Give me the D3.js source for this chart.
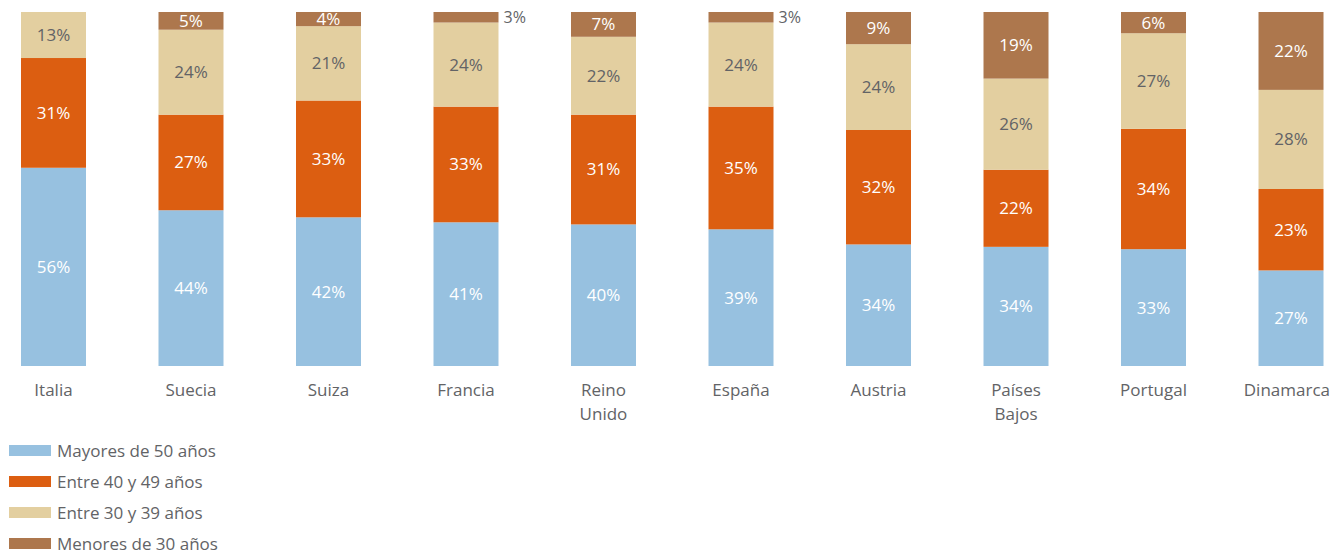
<!DOCTYPE html>
<html>
<head>
<meta charset="utf-8">
<script src="https://cdn.jsdelivr.net/npm/d3@7"></script>
<style>
  html, body { margin: 0; padding: 0; background: #fff; }
  svg text { font-family: "Open Sans", "Noto Sans", sans-serif; }
</style>
</head>
<body>
<svg id="chart" width="1331" height="553"></svg>
<script>
// Age distribution by country (percent of total), 100% stacked
const countries = ["Italia", "Suecia", "Suiza", "Francia", "Reino Unido", "España", "Austria", "Países Bajos", "Portugal", "Dinamarca"];
const countryLines = [["Italia"], ["Suecia"], ["Suiza"], ["Francia"], ["Reino", "Unido"], ["España"], ["Austria"], ["Países", "Bajos"], ["Portugal"], ["Dinamarca"]];
const seriesNames = ["Mayores de 50 años", "Entre 40 y 49 años", "Entre 30 y 39 años", "Menores de 30 años"];
const over50   = [56, 44, 42, 41, 40, 39, 34, 34, 33, 27];
const from40   = [31, 27, 33, 33, 31, 35, 32, 22, 34, 23];
const from30   = [13, 24, 21, 24, 22, 24, 24, 26, 27, 28];
const under30  = [0, 5, 4, 3, 7, 3, 9, 19, 6, 22];
const colors   = ["#97c1e0", "#dc5e11", "#e3cfa0", "#ad774d"];
const labelColors = ["#ffffff", "#ffffff", "#626366", "#ffffff"];

const seriesValues = [over50, from40, from30, under30];
const rows = countries.map((c, i) => {
  const r = { country: c };
  seriesNames.forEach((s, k) => r[s] = seriesValues[k][i]);
  return r;
});

const W = 1331;
const svg = d3.select("#chart");
const plotBottom = 366, plotTop = 12;

const x = d3.scaleBand()
  .domain(countries)
  .range([-15.25, 1359.75])
  .paddingInner(0.5273)
  .paddingOuter(0.2636);

const y = d3.scaleLinear().domain([0, 1]).range([plotBottom, plotTop]);

const stacked = d3.stack()
  .keys(seriesNames)
  .offset(d3.stackOffsetExpand)(rows);

const groups = svg.append("g").selectAll("g")
  .data(stacked)
  .join("g")
  .attr("fill", (d, i) => colors[i]);

groups.selectAll("rect")
  .data(d => d.map(p => ({ p, key: d.key })))
  .join("rect")
  .attr("x", d => x(d.p.data.country))
  .attr("width", x.bandwidth())
  .attr("y", d => y(d.p[1]))
  .attr("height", d => Math.max(0, y(d.p[0]) - y(d.p[1])));

// Value labels: inside the segment, or to the right of the bar when the segment is too thin
stacked.forEach((layer, k) => {
  layer.forEach(p => {
    const v = p.data[layer.key];
    if (!v) return;
    const y0 = y(p[0]), y1 = y(p[1]);
    const h = y0 - y1;
    const cx = x(p.data.country) + x.bandwidth() / 2;
    const thin = h < 13;
    svg.append("text")
      .attr("x", thin ? x(p.data.country) + x.bandwidth() + 5 : cx)
      .attr("y", (y0 + y1) / 2)
      .attr("dy", "0.35em")
      .attr("text-anchor", thin ? "start" : "middle")
      .attr("font-size", thin ? 16 : 17)
      .attr("fill", thin ? "#626366" : labelColors[k])
      .text(v + "%");
  });
});

// Category axis labels (no axis line); keep each label inside the page
const xAxis = svg.append("g");
countries.forEach((c, i) => {
  const cx = x(c) + x.bandwidth() / 2;
  const t = xAxis.append("text")
    .attr("x", cx)
    .attr("y", 396)
    .attr("text-anchor", "middle")
    .attr("font-size", 17)
    .attr("fill", "#626366");
  countryLines[i].forEach((line, j) => {
    t.append("tspan")
      .attr("x", cx)
      .attr("dy", j === 0 ? 0 : 24)
      .text(line);
  });
  const bb = t.node().getBBox();
  const overflow = bb.x + bb.width - (W - 1);
  if (overflow > 0) t.selectAll("tspan").attr("x", cx - overflow);
});

// Legend
const legend = svg.append("g").selectAll("g")
  .data(seriesNames)
  .join("g")
  .attr("transform", (d, i) => `translate(9, ${445 + i * 31})`);

legend.append("rect")
  .attr("width", 42)
  .attr("height", 11)
  .attr("fill", (d, i) => colors[i]);

legend.append("text")
  .attr("x", 48)
  .attr("y", 11.5)
  .attr("font-size", 17)
  .attr("fill", "#626366")
  .text(d => d);
</script>
</body>
</html>
